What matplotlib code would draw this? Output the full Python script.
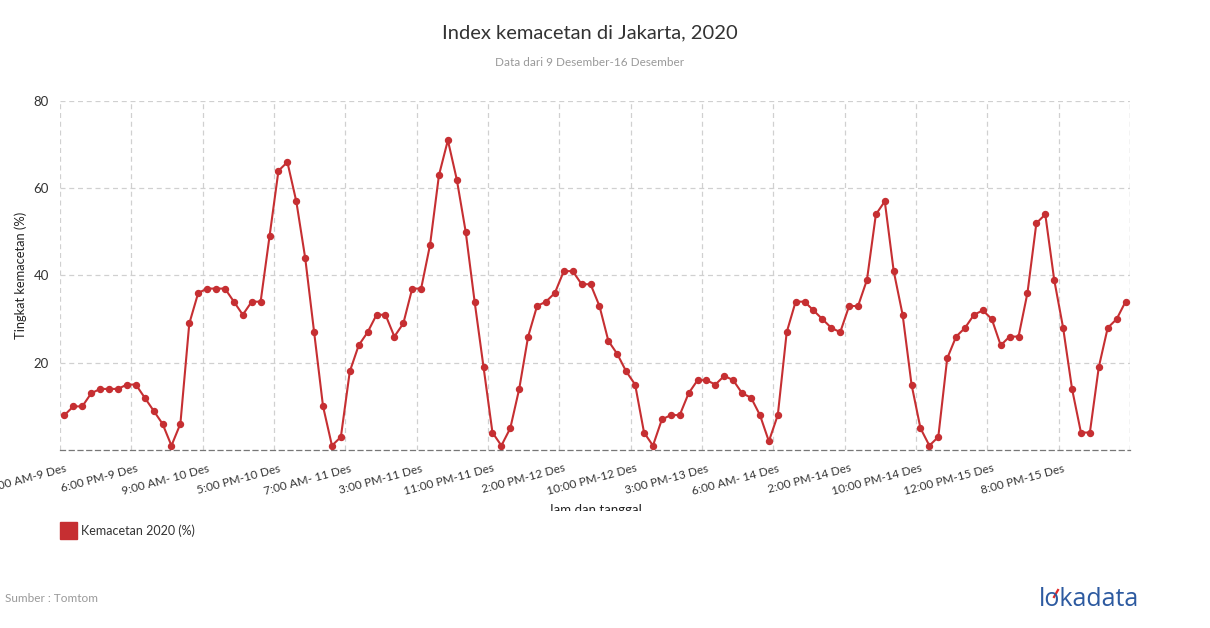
import matplotlib
matplotlib.use("Agg")
import matplotlib.pyplot as plt
from matplotlib.transforms import Bbox, TransformedBbox, ScaledTranslation
from matplotlib.lines import Line2D
import numpy as np

plt.rcParams['font.family'] = ['Lato', 'DejaVu Sans']

# data: hourly congestion index, 120 readings
values = [8, 10, 10, 13, 14, 14, 14, 15, 15, 12,
          9, 6, 1, 6, 29, 36, 37, 37, 37, 34,
          31, 34, 34, 49, 64, 66, 57, 44, 27, 10,
          1, 3, 18, 24, 27, 31, 31, 26, 29, 37,
          37, 47, 63, 71, 62, 50, 34, 19, 4, 1,
          5, 14, 26, 33, 34, 36, 41, 41, 38, 38,
          33, 25, 22, 18, 15, 4, 1, 7, 8, 8,
          13, 16, 16, 15, 17, 16, 13, 12, 8, 2,
          8, 27, 34, 34, 32, 30, 28, 27, 33, 33,
          39, 54, 57, 41, 31, 15, 5, 1, 3, 21,
          26, 28, 31, 32, 30, 24, 26, 26, 36, 52,
          54, 39, 28, 14, 4, 4, 19, 28, 30, 34]
tick_labels = ["10:00 AM-9 Des", "6:00 PM-9 Des", "9:00 AM- 10 Des", "5:00 PM-10 Des",
               "7:00 AM- 11 Des", "3:00 PM-11 Des", "11:00 PM-11 Des", "2:00 PM-12 Des",
               "10:00 PM-12 Des", "3:00 PM-13 Des", "6:00 AM- 14 Des", "2:00 PM-14 Des",
               "10:00 PM-14 Des", "12:00 PM-15 Des", "8:00 PM-15 Des"]
series_name = "Kemacetan 2020 (%)"
step = 8

red = '#c62f32'
W, H = 1210, 628
fig = plt.figure(figsize=(W / 100, H / 100), dpi=100)
ax = fig.add_axes([60 / W, 1 - 450 / H, 1070 / W, 349 / H])

n = len(values)
x = np.arange(n)
ax.plot(x, values, color=red, lw=1.5, marker='o', ms=4.3, zorder=3, clip_on=False)

ax.set_xlim(-0.5, n - 0.5)
ax.set_ylim(0, 80)
ax.set_yticks([20, 40, 60, 80])
ax.tick_params(axis='y', length=0, labelsize=9.5, labelcolor='#333333', pad=8)

# grid lines at category boundaries, labels at category centres
bounds = np.arange(-0.5, n, step)
for b in list(bounds) + [n - 0.5]:
    ax.axvline(b, color='#d0d0d0', lw=0.9, ls=(0, (4, 3)), zorder=1)
for yv in [20, 40, 60, 80]:
    ax.axhline(yv, color='#d0d0d0', lw=0.9, ls=(0, (4, 3)), zorder=1)

ax.set_xticks(np.arange(0, n, step))
ax.set_xticklabels(tick_labels, rotation=15, ha='right', rotation_mode='anchor',
                   fontsize=8.5, color='#333333')
ax.tick_params(axis='x', length=0, pad=4)
for lab in ax.get_xticklabels():
    lab.set_transform(lab.get_transform() + ScaledTranslation(0, -0.07, fig.dpi_scale_trans))

for s in ['top', 'right', 'left']:
    ax.spines[s].set_visible(False)
ax.spines['bottom'].set_color('#777777')
ax.spines['bottom'].set_linestyle((0, (4, 3)))
ax.spines['bottom'].set_linewidth(0.9)

ax.set_ylabel("Tingkat kemacetan (%)", fontsize=9.3, color='#222222')
ax.yaxis.set_label_coords(-33 / 1070, 0.5)

fig.text(590 / W, 1 - 33 / H, "Index kemacetan di Jakarta, 2020", ha='center', va='center',
         fontsize=14.5, color='#333333')
fig.text(590 / W, 1 - 62 / H, "Data dari 9 Desember-16 Desember", ha='center', va='center',
         fontsize=8.5, color='#999999')

xt = fig.text(595 / W, 1 - 510 / H, "Jam dan tanggal", ha='center', va='center',
              fontsize=9.5, color='#222222')
xt.set_clip_on(True)
xt.set_clip_box(TransformedBbox(Bbox([[0, 1 - 511 / H], [1, 1]]), fig.transFigure))

# legend
fig.patches.append(plt.Rectangle((60 / W, 1 - 539 / H), 17 / W, 17 / H, transform=fig.transFigure,
                                 color=red, figure=fig))
fig.text(81 / W, 1 - 531 / H, series_name, ha='left', va='center', fontsize=9, color='#333333')

fig.text(5 / W, 1 - 598 / H, "Sumber : Tomtom", ha='left', va='center', fontsize=8.5, color='#999999')
fig.text(1039 / W, 1 - 600 / H, "lokadata", ha='left', va='center', fontsize=18,
         color='#2d5aa0', family=['Open Sans', 'DejaVu Sans'])
# red accent on the logo
fig.lines.append(Line2D([1054 / W, 1058 / W], [1 - 597 / H, 1 - 590 / H], transform=fig.transFigure,
                        color='#e02a2a', lw=1.6, figure=fig))

fig.savefig("out.png", dpi=100)
